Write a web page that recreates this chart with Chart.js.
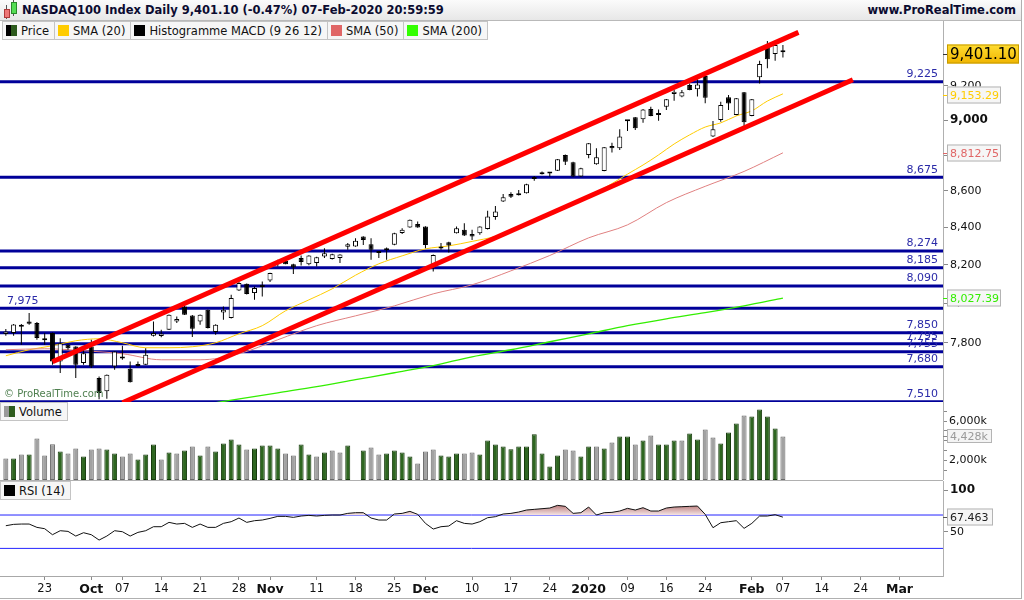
<!DOCTYPE html>
<html lang="en">
<head>
<meta charset="UTF-8" />
<title>NASDAQ100 Index Daily</title>
<script src="https://cdn.jsdelivr.net/npm/chart.js@4.4.1/dist/chart.umd.min.js"></script>
<style>
  html, body { margin: 0; padding: 0; background: #fff; }
  body { width: 1024px; height: 600px; overflow: hidden; position: relative; font-family: "DejaVu Sans", sans-serif; }
  .pane { position: absolute; left: 0; width: 1024px; }
  #title { position: absolute; left: 0; top: 0; width: 1021px; height: 20px; background: linear-gradient(#fbfbfb, #e7e7e7); border-bottom: 1px solid #b9b9b9; }
  #title .name { position: absolute; left: 22px; top: 3px; font-weight: bold; font-size: 11.5px; color: #0b0b30; white-space: nowrap; }
  #title .site { position: absolute; right: 5px; top: 3px; font-weight: bold; font-size: 11.5px; color: #0b0b30; }
  .logo i { position: absolute; display: block; }
  #legend { position: absolute; left: 2px; top: 21px; display: flex; z-index: 3; }
  .cell { display: flex; align-items: center; height: 17px; padding: 0 5px 0 3px; border: 1px solid #c4c4c4; border-left: none; background: #f6f6f6; font-size: 11.5px; color: #111; white-space: nowrap; }
  .cell:first-child { border-left: 1px solid #c4c4c4; }
  .sw { display: inline-block; width: 11px; height: 11px; margin-right: 4px; }
  .tag { position: absolute; left: 0; display: flex; align-items: center; height: 17px; padding: 0 5px 0 3px; border: 1px solid #c4c4c4; background: #f6f6f6; font-size: 11.5px; color: #111; z-index: 3; }
  .rule { position: absolute; background: #b0b0b0; }
  #copy { position: absolute; left: 4px; top: 388px; font-size: 10px; color: #4f7f4f; z-index: 3; }
</style>
</head>
<body>
  <div id="title">
    <div class="logo">
      <i style="left:6px;top:5px;width:1px;height:14px;background:#555"></i>
      <i style="left:4px;top:9px;width:4px;height:7px;background:#ee7777;border:1px solid #b03a3a"></i>
      <i style="left:13px;top:0px;width:1px;height:16px;background:#555"></i>
      <i style="left:11px;top:2px;width:4px;height:10px;background:#55dd55;border:1px solid #2a8a2a"></i>
    </div>
    <div class="name">NASDAQ100 Index Daily 9,401.10 (-0.47%) 07-Feb-2020 20:59:59</div>
    <div class="site">www.ProRealTime.com</div>
  </div>

  <div id="legend">
    <div class="cell"><span class="sw" style="background:linear-gradient(90deg,#000 50%,#2c5a1c 50%)"></span>Price</div>
    <div class="cell"><span class="sw" style="background:#ffcc00"></span>SMA (20)</div>
    <div class="cell"><span class="sw" style="background:#000"></span>Histogramme MACD (9 26 12)</div>
    <div class="cell"><span class="sw" style="background:#e06666"></span>SMA (50)</div>
    <div class="cell"><span class="sw" style="background:#33ff00"></span>SMA (200)</div>
  </div>

  <div class="pane" style="top:21px;height:381px"><canvas id="priceChart"></canvas></div>
  <div class="pane" style="top:402px;height:78px"><canvas id="volumeChart"></canvas></div>
  <div class="pane" style="top:481px;height:119px"><canvas id="rsiChart"></canvas></div>

  <div id="copy">&copy; ProRealTime.com</div>
  <div class="tag" style="top:402px"><span class="sw" style="background:linear-gradient(90deg,#9a9a9a 50%,#2c5a1c 50%)"></span>Volume</div>
  <div class="tag" style="top:481px"><span class="sw" style="background:#000"></span>RSI (14)</div>

  <div class="rule" style="left:0;top:480px;width:943px;height:1px"></div>
  <div class="rule" style="left:1021px;top:0;width:1px;height:599px"></div>
  <div class="rule" style="left:0;top:598px;width:1022px;height:1px"></div>

<script>
// one slot per trading day: 0 = 16 Sep 2019 ... 100 = 07 Feb 2020
const opens = [
  7844, 7849, 7881, 7907, 7899, 7820, 7849, 7707, 7790, 7781,
  7699, 7781, 7625, 7560, 7682, 7725, 7671, 7684, 7690, 7835,
  7834, 7865, 7907, 7984, 7938, 7907, 7967, 7854, 7953, 7925,
  8066, 8101, 8053, 8096, 8118, 8210, 8222, 8204, 8236, 8204,
  8210, 8245, 8231, 8236, 8297, 8298, 8351, 8310, 8271, 8278,
  8307, 8370, 8400, 8418, 8405, 8188, 8287, 8321, 8369, 8387,
  8365, 8369, 8391, 8456, 8541, 8583, 8583, 8587, 8666, 8701,
  8703, 8712, 8801, 8760, 8679, 8801, 8748, 8711, 8852, 8839,
  8994, 9016, 9005, 9064, 9030, 9078, 9152, 9137, 9205, 9180,
  9259, 8905, 9001, 9133, 9030, 9162, 9024, 9251, 9435, 9390,
  9410
];
const highs = [
  7869, 7894, 7894, 7950, 7905, 7849, 7851, 7823, 7793, 7783,
  7781, 7815, 7633, 7643, 7758, 7785, 7707, 7707, 7773, 7907,
  7865, 7943, 7933, 7992, 7940, 7943, 7969, 7893, 7984, 8044,
  8113, 8103, 8087, 8113, 8159, 8227, 8236, 8206, 8250, 8251,
  8243, 8289, 8259, 8257, 8316, 8342, 8353, 8342, 8273, 8292,
  8371, 8396, 8443, 8432, 8407, 8255, 8316, 8323, 8405, 8423,
  8387, 8407, 8491, 8517, 8583, 8592, 8605, 8639, 8682, 8707,
  8704, 8778, 8803, 8762, 8728, 8869, 8838, 8846, 8870, 8947,
  9001, 9018, 9064, 9078, 9062, 9123, 9176, 9176, 9215, 9239,
  9275, 8995, 9107, 9146, 9129, 9164, 9123, 9350, 9470, 9450,
  9445
];
const lows = [
  7835, 7835, 7790, 7891, 7815, 7790, 7690, 7650, 7765, 7625,
  7690, 7674, 7522, 7524, 7666, 7715, 7603, 7682, 7689, 7831,
  7828, 7864, 7899, 7940, 7829, 7891, 7872, 7840, 7916, 7923,
  8064, 8046, 8018, 8035, 8110, 8192, 8203, 8152, 8197, 8199,
  8192, 8236, 8229, 8210, 8280, 8296, 8306, 8227, 8236, 8227,
  8305, 8365, 8398, 8398, 8289, 8165, 8280, 8266, 8367, 8354,
  8333, 8360, 8389, 8441, 8539, 8560, 8574, 8585, 8656, 8691,
  8678, 8710, 8744, 8677, 8677, 8782, 8746, 8709, 8814, 8829,
  8937, 8943, 8985, 9022, 8997, 9059, 9113, 9133, 9174, 9137,
  9098, 8903, 8991, 9059, 9028, 8959, 9022, 9215, 9305, 9350,
  9370
];
const closes = [
  7857, 7892, 7889, 7896, 7824, 7812, 7707, 7798, 7773, 7690,
  7748, 7682, 7552, 7641, 7756, 7722, 7604, 7687, 7740, 7849,
  7847, 7941, 7920, 7942, 7870, 7941, 7874, 7891, 7967, 8027,
  8105, 8048, 8079, 8084, 8157, 8222, 8204, 8186, 8215, 8250,
  8241, 8262, 8257, 8255, 8310, 8328, 8333, 8280, 8263, 8281,
  8369, 8387, 8441, 8400, 8306, 8253, 8290, 8303, 8396, 8356,
  8351, 8405, 8459, 8486, 8565, 8568, 8576, 8637, 8669, 8692,
  8697, 8776, 8763, 8679, 8726, 8867, 8788, 8844, 8839, 8905,
  8996, 8953, 9062, 9024, 9033, 9121, 9166, 9162, 9176, 9209,
  9131, 8947, 9088, 9097, 9127, 8988, 9121, 9331, 9359, 9445,
  9401.10
];
// volume in thousands of shares (null: no bar printed that day)
const volumesK = [
  2177, 2177, 2584, 2584, 4211, 2482, 3632, 2889, 2686, 3194,
  2380, 3093, 3194, 3093, 2686, 2380, 2686, 2075, 2584, 3601,
  2075, 2787, 2686, 2991, 3398, 2482, 3398, 2889, 3703, 4110,
  3601, 3093, 3194, 3500, 3500, 3194, 2686, 2482, 3601, 2584,
  2380, 2787, 2991, 2787, 3500, null, 2991, 3296, 2584, 2686,
  2991, 2787, 2380, 1668, 2889, 3093, 2482, 2380, 2686, 2686,
  2787, 2584, 4008, 3601, 3398, 3123, 3398, 3398, 4649, 2686,
  1363, 2482, 3093, 2991, 2380, 3398, 3398, 3194, 3804, 4415,
  4415, 3601, 4008, 4517, 3601, 3601, 4008, 4008, 4720, 4110,
  5127, 4313, 3703, 4822, 5737, 6551, 6449, 7162, 6449, 5229,
  4428
];
const rsi14 = [
  57.2, 58.8, 59.2, 59.2, 55.2, 53.6, 46.4, 51.2, 50.4, 44.8,
  48.8, 46.4, 40.0, 44.8, 51.2, 50.0, 44.8, 49.2, 51.2, 56.0,
  56.0, 61.2, 59.2, 60.0, 55.2, 59.2, 55.2, 55.2, 60.0, 62.0,
  66.4, 61.2, 63.2, 64.0, 66.0, 68.4, 68.4, 67.2, 68.8, 69.6,
  68.8, 69.6, 70.0, 70.0, 72.0, 72.8, 72.8, 66.4, 64.0, 64.0,
  71.2, 72.0, 74.4, 70.8, 60.0, 53.2, 56.0, 56.8, 63.2, 60.0,
  59.2, 62.0, 66.8, 68.0, 71.2, 72.0, 73.6, 76.0, 76.8, 77.6,
  78.4, 81.6, 80.4, 72.0, 72.8, 79.6, 70.0, 72.8, 73.2, 74.8,
  78.0, 76.0, 78.8, 74.8, 74.8, 78.4, 79.6, 80.0, 80.4, 80.8,
  70.8, 54.8, 60.8, 62.0, 63.2, 54.0, 60.0, 68.8, 68.8, 70.4,
  67.463
];

const sma20Idx = [0, 3, 6, 9, 12, 15, 18, 21, 24, 27, 30, 33, 36, 39, 42, 45, 48, 51, 54, 57,
  60, 63, 66, 69, 72, 75, 78, 80, 82, 84, 86, 88, 90, 92, 94, 96, 98, 100];
const sma20Val = [7735, 7765, 7785, 7810, 7820, 7800, 7775, 7775, 7780, 7800, 7845, 7886, 7962, 8018, 8075, 8146, 8206, 8248, 8285, 8301,
  8325, 8352, 8398, 8449, 8503, 8569, 8640, 8693, 8744, 8801, 8863, 8915, 8960, 8984, 9024, 9054, 9111, 9153.29];
const sma50Idx = [0, 5, 10, 15, 20, 25, 30, 35, 40, 45, 50, 55, 60, 65, 70, 75, 80, 85, 90, 95, 100];
const sma50Val = [7765, 7770, 7760, 7745, 7715, 7715, 7745, 7815, 7886, 7936, 7987, 8049, 8096, 8169, 8250, 8344, 8414, 8535, 8625, 8708, 8812.75];
const sma200Idx = [27, 35, 40, 45, 50, 55, 60, 65, 70, 75, 80, 85, 90, 95, 100];
const sma200Val = [7505, 7553, 7583, 7617, 7651, 7686, 7730, 7765, 7805, 7845, 7886, 7921, 7952, 7987, 8027.39];

// hand-drawn support / resistance levels and the trend channel
const levels = [9225, 8675, 8274, 8185, 8090, 7975, 7850, 7795, 7755, 7680, 7510];
const channelUpperIdx = [6, 102];
const channelUpperVal = [7705, 9522];
const channelLowerIdx = [15, 109];
const channelLowerVal = [7505, 9237];

const priceTicks = [7800, 8000, 8200, 8400, 8600, 8800, 9000, 9200];
const volumeTicks = [1000, 2000, 3000, 4000, 5000, 6000, 7000];
const rsiTicks = [50, 100];
const rsiBands = [70, 30];
const dateTickIdx = [5, 11, 15, 20, 25, 30, 34, 40, 45, 50, 54, 60, 65, 70, 75, 80, 85, 90, 96, 100, 105, 110, 115];
const dateTickText = ['23', 'Oct', '07', '14', '21', '28', 'Nov', '11', '18', '25', 'Dec', '10', '17', '24', '2020', '09', '16', '24', 'Feb', '07', '14', '24', 'Mar'];

const X_MIN = -0.75, X_MAX = 120.6;
const FONT = '"DejaVu Sans", sans-serif';
const last = closes.length - 1;

Chart.defaults.font.family = FONT;
Chart.defaults.font.size = 11;
Chart.defaults.color = '#111';
Chart.defaults.animation = false;
Chart.defaults.events = [];
Chart.defaults.plugins.legend.display = false;
Chart.defaults.plugins.tooltip.enabled = false;

const fmt = (v, d) => v.toLocaleString('en-US', { minimumFractionDigits: d, maximumFractionDigits: d });
const noPad = s => { s.paddingTop = 0; s.paddingBottom = 0; s.paddingLeft = 0; s.paddingRight = 0; };
const rightAxisFit = s => { s.width = 81; noPad(s); };
const isUp = i => i > 0 && closes[i] >= closes[i - 1];
const isMonth = t => /^[A-Z]|^\d{4}$/.test(t || '');

function hiddenX() {
  return { type: 'linear', min: X_MIN, max: X_MAX, offset: false, display: false, afterFit: noPad };
}
function flatLine(value, color, width, order) {
  return {
    type: 'line', data: [{ x: X_MIN, y: value }, { x: X_MAX, y: value }],
    borderColor: color, borderWidth: width, pointRadius: 0, order: order
  };
}
function pairs(xs, ys) { return xs.map((x, k) => ({ x: x, y: ys[k] })); }

// boxed last-value labels on the right axis
const valueTags = {
  id: 'valueTags',
  afterDraw(chart, args, opts) {
    const { ctx, chartArea } = chart;
    const scale = chart.scales.y;
    (opts.tags || []).forEach(t => {
      const y = Math.round(scale.getPixelForValue(t.value)) + (t.shift || 0);
      const x = chartArea.right + 4;
      ctx.save();
      ctx.strokeStyle = t.tick || t.color;
      ctx.lineWidth = 1;
      ctx.beginPath(); ctx.moveTo(chartArea.right, y + 0.5); ctx.lineTo(x, y + 0.5); ctx.stroke();
      let bg = t.bg;
      if (t.gradient) {
        bg = ctx.createLinearGradient(0, y - t.h / 2, 0, y + t.h / 2);
        bg.addColorStop(0, '#ffdd33'); bg.addColorStop(1, '#f0b400');
      }
      ctx.fillStyle = bg;
      ctx.fillRect(x, y - t.h / 2, t.w, t.h);
      ctx.strokeStyle = t.border;
      ctx.strokeRect(x + 0.5, y - t.h / 2 + 0.5, t.w - 1, t.h - 1);
      ctx.font = t.font;
      ctx.fillStyle = t.color;
      ctx.textBaseline = 'middle';
      ctx.textAlign = 'left';
      ctx.fillText(t.text, x + 3, y + 1);
      ctx.restore();
    });
  }
};

const levelLabels = {
  id: 'levelLabels',
  afterDatasetsDraw(chart) {
    const { ctx, chartArea } = chart;
    const scale = chart.scales.y;
    ctx.save();
    ctx.font = '11px ' + FONT;
    ctx.fillStyle = '#2a2aa8';
    ctx.textBaseline = 'bottom';
    levels.forEach(v => {
      const y = scale.getPixelForValue(v) - 2;
      if (v === 7975) { ctx.textAlign = 'left'; ctx.fillText(fmt(v, 0), chartArea.left + 7, y); }
      else { ctx.textAlign = 'right'; ctx.fillText(fmt(v, 0), chartArea.right - 5, y); }
    });
    ctx.restore();
  }
};

// ---- price panel ----
new Chart(document.getElementById('priceChart'), {
  type: 'bar',
  data: {
    datasets: [
      ...levels.map(v => flatLine(v, '#000099', 3, 9)),
      { type: 'line', data: pairs(sma200Idx, sma200Val), borderColor: '#33ee00', borderWidth: 1.3, pointRadius: 0, cubicInterpolationMode: 'monotone', order: 8 },
      { type: 'line', data: pairs(sma50Idx, sma50Val), borderColor: '#e08080', borderWidth: 1, pointRadius: 0, cubicInterpolationMode: 'monotone', order: 8 },
      { type: 'line', data: pairs(sma20Idx, sma20Val), borderColor: '#ffcc00', borderWidth: 1, pointRadius: 0, cubicInterpolationMode: 'monotone', order: 8 },
      {
        data: closes.map((c, i) => ({ x: i, y: [lows[i], highs[i]] })),
        backgroundColor: '#000', borderWidth: 0, grouped: false, maxBarThickness: 1, order: 5
      },
      {
        data: closes.map((c, i) => ({ x: i, y: [opens[i], c] })),
        backgroundColor: ctx => (ctx.raw && ctx.raw.y[1] >= ctx.raw.y[0]) ? '#ffffff' : '#000000',
        borderColor: '#000', borderWidth: 1, borderSkipped: false, minBarLength: 2,
        grouped: false, maxBarThickness: 5, order: 4
      },
      { type: 'line', data: pairs(channelUpperIdx, channelUpperVal), borderColor: '#ff0000', borderWidth: 5, pointRadius: 0, order: 1 },
      { type: 'line', data: pairs(channelLowerIdx, channelLowerVal), borderColor: '#ff0000', borderWidth: 5, pointRadius: 0, order: 1 }
    ]
  },
  options: {
    responsive: true, maintainAspectRatio: false,
    layout: { padding: 0 },
    scales: {
      x: hiddenX(),
      y: {
        type: 'logarithmic', position: 'right', min: 7508.5, max: 9592,
        afterBuildTicks: s => { s.ticks = priceTicks.map(v => ({ value: v })); },
        afterFit: rightAxisFit,
        grid: { drawOnChartArea: false, drawTicks: true, tickLength: 5, color: '#8a8a8a' },
        border: { display: true, color: '#b0b0b0' },
        ticks: {
          autoSkip: false, padding: 2, color: '#111',
          callback: v => fmt(v, 0),
          font: c => (c.tick && c.tick.value === 9000) ? { size: 12, weight: 'bold' } : { size: 11 }
        }
      }
    },
    plugins: {
      valueTags: {
        tags: [
          { value: closes[last], text: fmt(closes[last], 2), font: '15px ' + FONT, color: '#000', gradient: true, border: '#c49a00', tick: '#333', w: 72, h: 19, shift: 2 },
          { value: sma20Val[sma20Val.length - 1], text: fmt(sma20Val[sma20Val.length - 1], 2), font: '11px ' + FONT, color: '#ffcc00', bg: '#f6f6f6', border: '#b4b4b4', w: 54, h: 17, shift: 1 },
          { value: sma50Val[sma50Val.length - 1], text: fmt(sma50Val[sma50Val.length - 1], 2), font: '11px ' + FONT, color: '#e06666', bg: '#f6f6f6', border: '#b4b4b4', w: 54, h: 17, shift: 0 },
          { value: sma200Val[sma200Val.length - 1], text: fmt(sma200Val[sma200Val.length - 1], 2), font: '11px ' + FONT, color: '#33ee00', bg: '#f6f6f6', border: '#b4b4b4', w: 54, h: 17, shift: 0 }
        ]
      }
    }
  },
  plugins: [levelLabels, valueTags]
});

// ---- volume panel ----
new Chart(document.getElementById('volumeChart'), {
  type: 'bar',
  data: {
    datasets: [{
      data: volumesK.map((v, i) => ({ x: i, y: v })),
      backgroundColor: ctx => isUp(ctx.dataIndex) ? '#2e6620' : '#a2a2a2',
      borderColor: ctx => isUp(ctx.dataIndex) ? '#163a0c' : '#6a6a6a',
      borderWidth: 1, borderSkipped: false, grouped: false, maxBarThickness: 5
    }]
  },
  options: {
    responsive: true, maintainAspectRatio: false,
    layout: { padding: 0 },
    scales: {
      x: hiddenX(),
      y: {
        type: 'linear', position: 'right', min: 0, max: 7935,
        afterBuildTicks: s => { s.ticks = volumeTicks.map(v => ({ value: v })); },
        afterFit: rightAxisFit,
        grid: { drawOnChartArea: false, drawTicks: true, tickLength: 4, color: '#8a8a8a' },
        border: { display: true, color: '#b0b0b0' },
        ticks: {
          autoSkip: false, padding: 2, color: '#111', font: { size: 11 },
          callback: v => (v === 2000 || v === 6000) ? fmt(v, 0) + 'k' : ''
        }
      }
    },
    plugins: {
      valueTags: {
        tags: [{ value: volumesK[last], text: fmt(volumesK[last], 0) + 'k', font: '11px ' + FONT, color: '#9a9a9a', bg: '#f4f4f4', border: '#b4b4b4', tick: '#888', w: 45, h: 14, shift: 0 }]
      }
    }
  },
  plugins: [valueTags]
});

// ---- RSI panel ----
new Chart(document.getElementById('rsiChart'), {
  type: 'line',
  data: {
    datasets: [
      {
        data: rsi14.map((v, i) => ({ x: i, y: v })),
        borderColor: '#111', borderWidth: 1, pointRadius: 0, order: 1,
        fill: { target: { value: rsiBands[0] }, below: 'rgba(0,0,0,0)' },
        backgroundColor: c => {
          const { chart } = c;
          if (!chart.chartArea) return 'rgba(200,140,140,0.6)';
          const y = chart.scales.y;
          const g = chart.ctx.createLinearGradient(0, y.getPixelForValue(84), 0, y.getPixelForValue(rsiBands[0]));
          g.addColorStop(0, '#b06868');
          g.addColorStop(1, '#f4e4e4');
          return g;
        }
      },
      ...rsiBands.map(v => flatLine(v, '#2424ff', 1, 2))
    ]
  },
  options: {
    responsive: true, maintainAspectRatio: false,
    layout: { padding: 0 },
    scales: {
      x: {
        type: 'linear', min: X_MIN, max: X_MAX, offset: false,
        afterBuildTicks: s => { s.ticks = dateTickIdx.map(v => ({ value: v })); },
        afterFit: s => { s.height = 24; noPad(s); },
        grid: { drawOnChartArea: false, drawTicks: true, tickLength: 4, color: '#8a8a8a' },
        border: { display: true, color: '#a8a8a8' },
        ticks: {
          autoSkip: false, maxRotation: 0, padding: 2, color: '#111',
          callback: v => dateTickText[dateTickIdx.indexOf(v)] || '',
          font: c => isMonth(c.tick && dateTickText[dateTickIdx.indexOf(c.tick.value)]) ? { size: 12.5, weight: 'bold' } : { size: 11.5 }
        }
      },
      y: {
        type: 'linear', position: 'right', min: -3.1, max: 110.8,
        afterBuildTicks: s => { s.ticks = rsiTicks.map(v => ({ value: v })); },
        afterFit: rightAxisFit,
        grid: { drawOnChartArea: false, drawTicks: true, tickLength: 5, color: '#8a8a8a' },
        border: { display: true, color: '#b0b0b0' },
        ticks: {
          autoSkip: false, padding: 2, color: '#111',
          callback: v => String(v),
          font: c => (c.tick && c.tick.value === 100) ? { size: 12, weight: 'bold' } : { size: 11 }
        }
      }
    },
    plugins: {
      valueTags: {
        tags: [{ value: rsi14[last], text: fmt(rsi14[last], 3), font: '11px ' + FONT, color: '#222', bg: '#f6f6f6', border: '#b4b4b4', tick: '#555', w: 46, h: 17, shift: 0 }]
      }
    }
  },
  plugins: [valueTags]
});
</script>
</body>
</html>
